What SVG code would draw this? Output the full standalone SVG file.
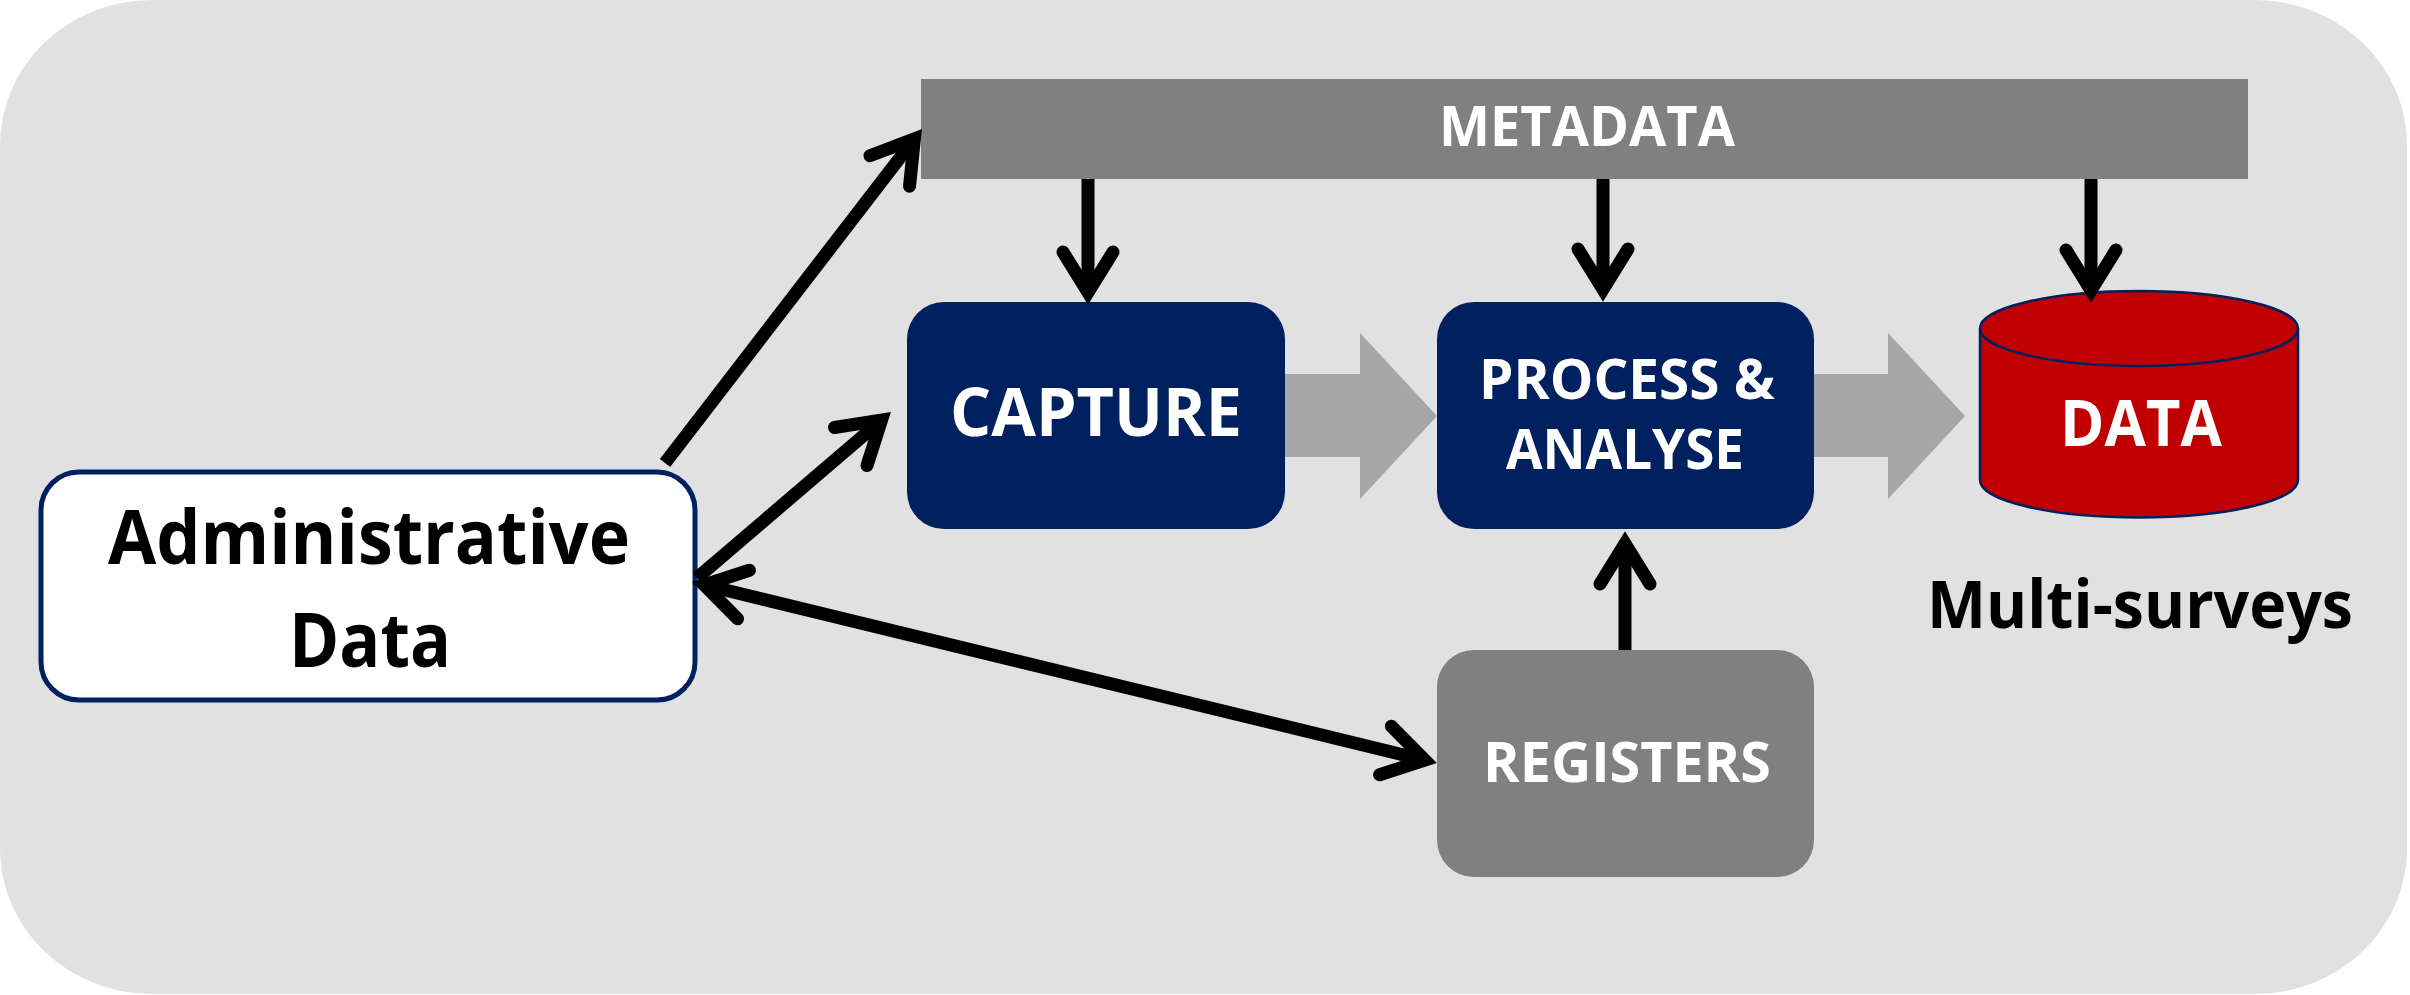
<svg xmlns="http://www.w3.org/2000/svg" width="2410" height="995" viewBox="0 0 2410 995">
<style>
.t{font-family:"Open Sans","Noto Sans","Liberation Sans",sans-serif;font-weight:bold;text-anchor:middle}
.w{fill:#ffffff}
.k{fill:#000000}
.ln{stroke:#000;stroke-width:13;fill:none}
</style>
<defs>
<marker id="ah" markerUnits="userSpaceOnUse" orient="auto-start-reverse" refX="0" refY="0" markerWidth="120" markerHeight="120" viewBox="-60 -60 120 120" overflow="visible">
<path d="M -39 -25 L 1.5 0 L -39 25" fill="none" stroke="#000" stroke-width="13" stroke-linejoin="miter" stroke-miterlimit="10" stroke-linecap="round"/>
</marker>
</defs>
<rect id="background" x="0" y="0" width="2407" height="994" rx="152" ry="145" fill="#e1e1e1"/>
<g id="flow-arrows" fill="#a6a6a6">
<polygon points="1280,374 1360,374 1360,333 1437,416 1360,499 1360,457 1280,457"/>
<polygon points="1810,374 1888,374 1888,333 1965,416 1888,499 1888,457 1810,457"/>
</g>
<g id="metadata">
<rect x="921" y="79" width="1327" height="100" fill="#808080"/>
<text class="t w" x="1587" y="146" font-size="56" textLength="296" lengthAdjust="spacingAndGlyphs">METADATA</text>
</g>
<g id="capture">
<rect x="907" y="302" width="378" height="227" rx="37" fill="#002060"/>
<text class="t w" x="1096" y="436" font-size="66" textLength="292" lengthAdjust="spacingAndGlyphs">CAPTURE</text>
</g>
<g id="process">
<rect x="1437" y="302" width="377" height="227" rx="37" fill="#002060"/>
<text class="t w" x="1627" y="399" font-size="56" textLength="296" lengthAdjust="spacingAndGlyphs">PROCESS &amp;</text>
<text class="t w" x="1625" y="469" font-size="56" textLength="238" lengthAdjust="spacingAndGlyphs">ANALYSE</text>
</g>
<g id="data">
<path d="M 1980 328.5 L 1980 480 A 159 37.5 0 0 0 2298 480 L 2298 328.5 A 159 37.5 0 0 0 1980 328.5 Z" fill="#c00000" stroke="#002060" stroke-width="2.5"/>
<path d="M 1980 328.5 A 159 37.5 0 0 0 2298 328.5" fill="none" stroke="#002060" stroke-width="2.5"/>
<text class="t w" x="2141" y="446" font-size="64" textLength="162" lengthAdjust="spacingAndGlyphs">DATA</text>
</g>
<g id="multi-surveys">
<text class="t k" x="2140" y="628" font-size="67" textLength="426" lengthAdjust="spacingAndGlyphs">Multi-surveys</text>
</g>
<g id="registers">
<rect x="1437" y="650" width="377" height="227" rx="37" fill="#808080"/>
<text class="t w" x="1627" y="782" font-size="56" textLength="288" lengthAdjust="spacingAndGlyphs">REGISTERS</text>
</g>
<g id="admin">
<rect x="41" y="472" width="654" height="228" rx="38" fill="#ffffff" stroke="#002060" stroke-width="5"/>
<text class="t k" x="369" y="564" font-size="75" textLength="522" lengthAdjust="spacingAndGlyphs">Administrative</text>
<text class="t k" x="370" y="667" font-size="75" textLength="162" lengthAdjust="spacingAndGlyphs">Data</text>
</g>
<g id="connectors" class="ln">
<line x1="665" y1="463" x2="913.5" y2="140.1" marker-end="url(#ah)"/>
<line x1="697" y1="578" x2="880.4" y2="421.1" marker-end="url(#ah)"/>
<line x1="705.6" y1="585.3" x2="1423.4" y2="759.7" marker-start="url(#ah)" marker-end="url(#ah)"/>
<line x1="1625" y1="650" x2="1625" y2="545" marker-end="url(#ah)"/>
<line x1="1088" y1="179" x2="1088" y2="291" marker-end="url(#ah)"/>
<line x1="1603" y1="179" x2="1603" y2="288" marker-end="url(#ah)"/>
<line x1="2091" y1="179" x2="2091" y2="289" marker-end="url(#ah)"/>
</g>
</svg>
